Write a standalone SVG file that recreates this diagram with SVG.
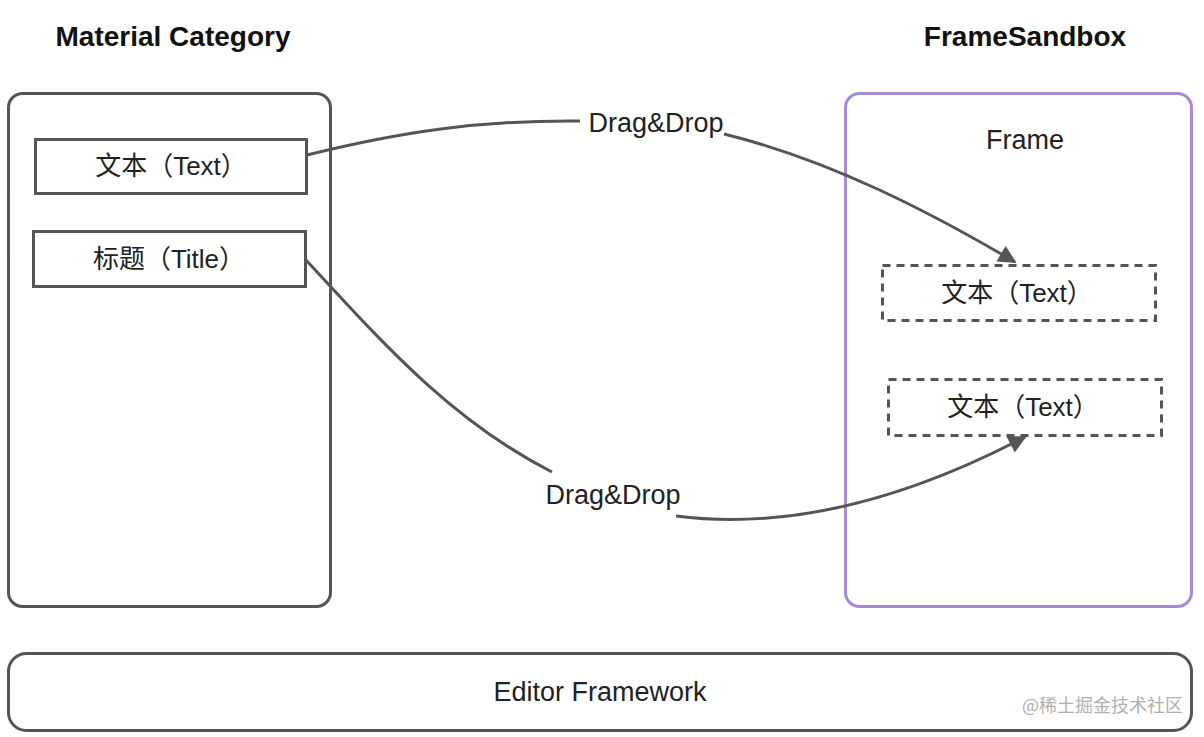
<svg xmlns="http://www.w3.org/2000/svg" width="1204" height="737" viewBox="0 0 1204 737">
<defs>
<style>
.panel{fill:#fff;stroke:#555;stroke-width:3}
.box{fill:#fff;stroke:#555;stroke-width:3}
.dash{fill:#fff;stroke:#555;stroke-width:3;stroke-dasharray:8 6}
.t{font-family:"Liberation Sans","Noto Sans CJK SC",sans-serif;font-size:27px;fill:#222;text-anchor:middle}
.b{font-size:26px}
.title{font-family:"Liberation Sans",sans-serif;font-size:28px;font-weight:bold;fill:#111;text-anchor:middle}
.conn{fill:none;stroke:#555;stroke-width:3}
</style>
<marker id="arr" viewBox="0 0 10 10" refX="9" refY="5" markerWidth="8" markerHeight="6" markerUnits="strokeWidth" orient="auto">
<path d="M0,0 L10,5 L0,10 z" fill="#555"/>
</marker>
</defs>
<rect width="1204" height="737" fill="#fff"/>
<g id="material-category">
<text class="title" x="173" y="46">Material Category</text>
<rect class="panel" x="8.5" y="93.5" width="322" height="513" rx="14"/>
</g>
<g id="frame-sandbox">
<text class="title" x="1025" y="46">FrameSandbox</text>
<rect x="845.5" y="93.5" width="346" height="513" rx="14" fill="#fff" stroke="#a58bd4" stroke-width="3"/>
<text class="t" x="1025" y="149">Frame</text>
</g>
<g id="mat-text">
<rect class="box" x="35.5" y="139.5" width="271" height="54"/>
<text class="t b" x="171" y="175">文本（Text）</text>
</g>
<g id="mat-title">
<rect class="box" x="33.5" y="231.5" width="272" height="55"/>
<text class="t b" x="169" y="268">标题（Title）</text>
</g>
<g id="frame-text-1">
<rect class="dash" x="882.5" y="265.5" width="273" height="55"/>
<text class="t b" x="1017" y="302">文本（Text）</text>
</g>
<g id="frame-text-2">
<rect class="dash" x="888.5" y="379.5" width="273" height="56"/>
<text class="t b" x="1023" y="416">文本（Text）</text>
</g>
<g id="editor-framework">
<rect class="panel" x="8.5" y="653.5" width="1183" height="77" rx="18"/>
<text class="t" x="600" y="701">Editor Framework</text>
</g>
<g id="connectors">
<path class="conn" d="M307,155 C400,132 480,120 580,121"/>
<path class="conn" d="M724,134 C830,160 930,212 1015,262" marker-end="url(#arr)"/>
<text class="t" x="656" y="132">Drag&amp;Drop</text>
<path class="conn" d="M306,260 C380,340 450,420 552,472"/>
<path class="conn" d="M676,516 C800,532 920,492 1025,437" marker-end="url(#arr)"/>
<text class="t" x="613" y="504">Drag&amp;Drop</text>
</g>
<text x="1183" y="712" font-family="'Noto Sans CJK SC',sans-serif" font-size="18" fill="#b0b0b0" text-anchor="end">@稀土掘金技术社区</text>
</svg>
